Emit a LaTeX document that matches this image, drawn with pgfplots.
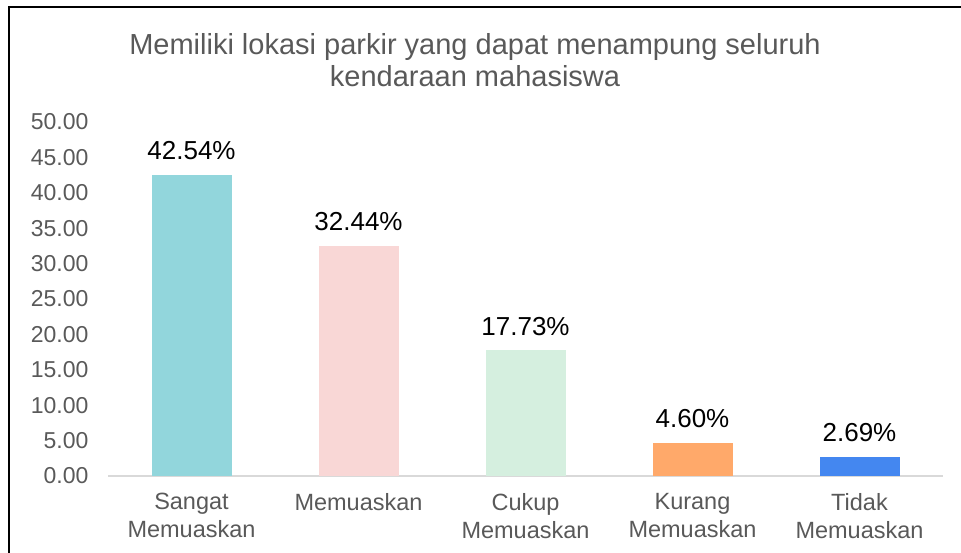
\documentclass[border=0pt]{standalone}
\usepackage{pgfplots}
\pgfplotsset{compat=1.18}
\usepackage{fontspec}
\setmainfont{Liberation Sans}
\definecolor{c1}{HTML}{92D6DC}
\definecolor{c2}{HTML}{F9D7D6}
\definecolor{c3}{HTML}{D5EFDF}
\definecolor{c4}{HTML}{FFA96A}
\definecolor{c5}{HTML}{4487F0}
\definecolor{txtgray}{HTML}{595959}
\definecolor{axgray}{HTML}{D9D9D9}
\begin{document}
\begin{tikzpicture}[x=1pt,y=1pt]
\useasboundingbox (0,0) rectangle (961,553);
\draw[line width=2.5pt] (9,-2) -- (9,546) -- (963,546);
\node[align=center, text=txtgray, font=\fontsize{29}{32}\selectfont] at (475,493) {Memiliki lokasi parkir yang dapat menampung seluruh\\kendaraan mahasiswa};
\begin{axis}[
  at={(108pt,77pt)}, anchor=south west,
  scale only axis, width=835pt, height=354pt,
  xmin=-0.5, xmax=4.5, ymin=0, ymax=50,
  axis x line*=bottom, axis y line*=left,
  x axis line style={draw=axgray, line width=1.5pt, -},
  y axis line style={draw=none},
  major tick length=0pt,
  ytick={0,5,...,50},
  /pgf/number format/assume math mode=true,
  yticklabel style={/pgf/number format/fixed, /pgf/number format/fixed zerofill, /pgf/number format/precision=2, text=txtgray, font=\fontsize{23}{26}\selectfont, xshift=-16pt},
  xtick={0,1,2,3,4},
  xticklabels={{Sangat\\Memuaskan},{Memuaskan},{Cukup\\Memuaskan},{Kurang\\Memuaskan},{Tidak\\Memuaskan}},
  xticklabel style={align=center, text=txtgray, font=\fontsize{23.5}{28}\selectfont, yshift=-14pt},
  every axis plot/.append style={ybar, bar width=80pt, bar shift=0pt, draw=none},
  nodes near coords={\pgfmathprintnumber[fixed, fixed zerofill, precision=2]{\pgfplotspointmeta}\%},
  nodes near coords style={anchor=south, inner sep=0pt, yshift=15pt, text=black, font=\fontsize{26}{30}\selectfont},
  clip=false,
]
\addplot[fill=c1] coordinates {(0,42.54)};
\addplot[fill=c2] coordinates {(1,32.44)};
\addplot[fill=c3] coordinates {(2,17.73)};
\addplot[fill=c4] coordinates {(3,4.60)};
\addplot[fill=c5] coordinates {(4,2.69)};
\end{axis}
\end{tikzpicture}
\end{document}
